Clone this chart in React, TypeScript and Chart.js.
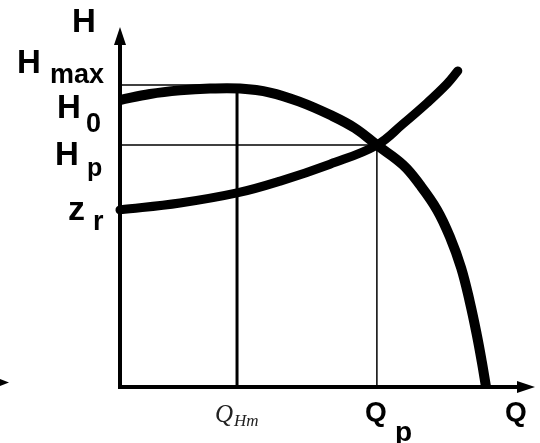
import React, { useEffect, useRef } from "react";
import { Chart, registerables } from "chart.js";

Chart.register(...registerables);

// Pump curve H(Q)
const pumpQ = [0, 7.23, 14.46, 21.69, 28.92, 36.14, 43.37, 50.6, 56.6, 61.9, 68.2, 72.3, 76.4, 79.5, 82.2, 84.3, 86.0, 87.2, 88.2];
const pumpH = [79.7, 81.4, 82.4, 82.9, 82.9, 81.8, 79.2, 75.6, 71.9, 67.2, 61.7, 56.1, 49.2, 41.7, 33.1, 23.6, 14.4, 6.9, 0];

// System curve
const sysQ = [0, 14.46, 28.2, 38.6, 50.6, 61.9, 68.2, 74.0, 78.8, 81.4];
const sysH = [49.2, 51.1, 53.9, 57.2, 61.9, 67.2, 73.1, 78.9, 84.2, 87.8];

// Characteristic values
const Hmax = 83.9;
const H0 = 79.7;
const Hp = 67.2;
const zr = 49.2;
const QHm = 28.2;
const Qp = 61.9;
const Qmax = 100;
const Hmaxscale = 100;

const toPts = (xs: number[], ys: number[]) => xs.map((x, i) => ({ x, y: ys[i] }));

export default function App() {
  const ref = useRef<HTMLCanvasElement | null>(null);

  useEffect(() => {
    if (!ref.current) return;

    const txt = (ctx: CanvasRenderingContext2D, s: string, x: number, y: number, font: string, color = "#000") => {
      ctx.font = font;
      ctx.fillStyle = color;
      ctx.textAlign = "left";
      ctx.textBaseline = "alphabetic";
      ctx.fillText(s, x, y);
    };

    const decor = {
      id: "decor",
      afterDatasetsDraw(chart: any) {
        const ctx: CanvasRenderingContext2D = chart.ctx;
        const xs = chart.scales.x;
        const ys = chart.scales.y;
        const x0 = xs.getPixelForValue(0);
        const y0 = ys.getPixelForValue(0);
        const xEnd = xs.getPixelForValue(Qmax);
        const yTop = ys.getPixelForValue(Hmaxscale);
        ctx.save();
        ctx.strokeStyle = "#000";
        ctx.fillStyle = "#000";
        ctx.lineWidth = 4;
        // vertical axis
        ctx.beginPath();
        ctx.moveTo(x0, y0 + 2);
        ctx.lineTo(x0, yTop + 14);
        ctx.stroke();
        ctx.beginPath();
        ctx.moveTo(x0, yTop);
        ctx.lineTo(x0 - 6, yTop + 18);
        ctx.lineTo(x0 + 6, yTop + 18);
        ctx.closePath();
        ctx.fill();
        // horizontal axis
        ctx.beginPath();
        ctx.moveTo(x0 - 2, y0);
        ctx.lineTo(xEnd - 14, y0);
        ctx.stroke();
        ctx.beginPath();
        ctx.moveTo(xEnd, y0);
        ctx.lineTo(xEnd - 18, y0 - 6);
        ctx.lineTo(xEnd - 18, y0 + 6);
        ctx.closePath();
        ctx.fill();
        // small stray arrow tip at left
        ctx.beginPath();
        ctx.moveTo(0, 379);
        ctx.lineTo(9, 382.5);
        ctx.lineTo(0, 386);
        ctx.closePath();
        ctx.fill();

        const B = "bold ";
        const F = "px 'Liberation Sans', Arial, sans-serif";
        // H axis label
        txt(ctx, "H", 72, 32, B + 33 + F);
        // Hmax
        const yHmax = ys.getPixelForValue(Hmax);
        txt(ctx, "H", 17, yHmax - 12, B + 33 + F);
        txt(ctx, "max", 50, yHmax - 2, B + 27 + F);
        // H0
        const yH0 = ys.getPixelForValue(H0);
        txt(ctx, "H", 57, yH0 + 18, B + 33 + F);
        txt(ctx, "0", 86, yH0 + 32, B + 27 + F);
        // Hp
        const yHp = ys.getPixelForValue(Hp);
        txt(ctx, "H", 55, yHp + 20, B + 33 + F);
        txt(ctx, "p", 87, yHp + 31, B + 25 + F);
        // zr
        const yzr = ys.getPixelForValue(zr);
        txt(ctx, "z", 68, yzr + 10, B + 34 + F);
        txt(ctx, "r", 93, yzr + 20, B + 27 + F);
        // Q labels
        const xQHm = xs.getPixelForValue(QHm);
        txt(ctx, "Q", xQHm - 22, 422, "italic 25px 'Liberation Serif', 'DejaVu Serif', serif", "#222");
        txt(ctx, "Hm", xQHm - 3, 426, "italic 17px 'Liberation Serif', 'DejaVu Serif', serif", "#222");
        const xQp = xs.getPixelForValue(Qp);
        txt(ctx, "Q", xQp - 12, 421, B + 28 + F);
        txt(ctx, "p", xQp + 18, 441, B + 28 + F);
        txt(ctx, "Q", xEnd - 30, 421, B + 28 + F);
        ctx.restore();
      },
    };

    const chart = new Chart(ref.current, {
      type: "line",
      data: {
        datasets: [
          {
            label: "pump",
            data: toPts(pumpQ, pumpH),
            borderColor: "#000",
            borderWidth: 10,
            pointRadius: 0,
            tension: 0.4,
            borderCapStyle: "butt",
            borderJoinStyle: "round",
            clip: false,
          },
          {
            label: "system",
            data: toPts(sysQ, sysH),
            borderColor: "#000",
            borderWidth: 9,
            pointRadius: 0,
            tension: 0.4,
            borderCapStyle: "round",
            borderJoinStyle: "round",
            clip: false,
          },
          {
            label: "QHm",
            data: [{ x: QHm, y: 0 }, { x: QHm, y: Hmax - 1 }],
            borderColor: "#000",
            borderWidth: 3,
            pointRadius: 0,
            clip: false,
          },
          {
            label: "Hmax",
            data: [{ x: 0, y: Hmax }, { x: QHm, y: Hmax }],
            borderColor: "#000",
            borderWidth: 1.5,
            pointRadius: 0,
            clip: false,
          },
          {
            label: "Hp",
            data: [{ x: 0, y: Hp }, { x: Qp, y: Hp }],
            borderColor: "#000",
            borderWidth: 1.5,
            pointRadius: 0,
            clip: false,
          },
          {
            label: "Qp",
            data: [{ x: Qp, y: 0 }, { x: Qp, y: Hp }],
            borderColor: "#000",
            borderWidth: 1.5,
            pointRadius: 0,
            clip: false,
          },
        ],
      },
      options: {
        responsive: false,
        animation: false,
        layout: { padding: { left: 120, top: 27, right: 5, bottom: 56 } },
        plugins: { legend: { display: false }, tooltip: { enabled: false } },
        scales: {
          x: { type: "linear", min: 0, max: Qmax, display: false },
          y: { type: "linear", min: 0, max: Hmaxscale, display: false },
        },
      },
      plugins: [decor],
    } as any);

    return () => chart.destroy();
  }, []);

  return (
    <div style={{ position: "absolute", left: 0, top: 0, width: 540, height: 443, background: "#fff" }}>
      <canvas ref={ref} width={540} height={443} style={{ display: "block" }} />
    </div>
  );
}
